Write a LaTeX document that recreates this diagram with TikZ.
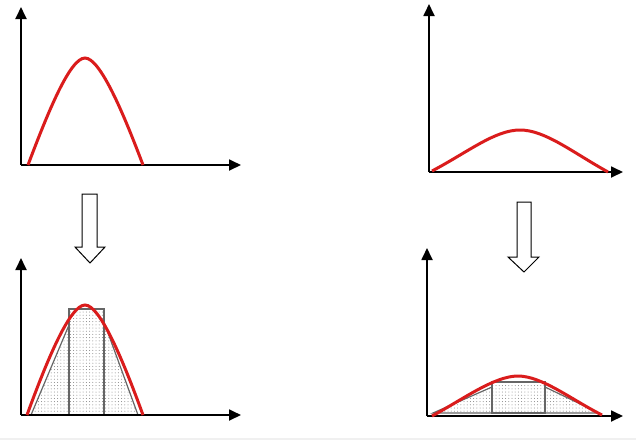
\documentclass[tikz,border=0pt]{standalone}
\usetikzlibrary{arrows.meta,patterns.meta}
\definecolor{cred}{RGB}{218,28,28}
\begin{document}
\begin{tikzpicture}[x=1pt,y=-1pt,
  axis/.style={line width=1.8pt, -{Triangle[length=12pt,width=11pt]}},
  curve/.style={cred, line width=3pt},
  approx/.style={draw=black!60, line width=1.2pt, pattern={Dots[distance=3.2pt,radius=0.5pt]}, pattern color=black!50},
  blockarrow/.style={draw=black, line width=1pt, fill=white, line join=miter}]
\useasboundingbox (0,0) rectangle (636,440);
\fill[black!6] (0,438) rectangle (636,440);

% panel 1 (top left)
\coordinate (o1) at (21,165);
\draw[axis] (o1) -- (21,7);
\draw[axis] (o1) -- (241,165);
\draw[curve] (28,165) .. controls (48,112) and (70,58) .. (85,58) .. controls (100,58) and (123,112) .. (143,165);

% block arrow 1
\draw[blockarrow] (82,194) -- (97,194) -- (97,247) -- (105,247) -- (90,263) -- (75,247) -- (82,247) -- cycle;

% panel 2 (bottom left)
\draw[approx] (31,415) -- (69,325) -- (69,415) -- cycle;
\draw[approx] (69,309) rectangle (104,415);
\draw[approx] (104,322) -- (138,415) -- (104,415) -- cycle;
\coordinate (o2) at (21,415);
\draw[axis] (o2) -- (21,258);
\draw[axis] (o2) -- (241,415);
\draw[curve] (27,415) .. controls (47,360) and (70,305) .. (85,305) .. controls (100,305) and (123,360) .. (143,415);

% panel 3 (top right)
\coordinate (o3) at (429,172);
\draw[axis] (o3) -- (429,4);
\draw[axis] (o3) -- (623,172);
\draw[curve] (432,171) .. controls (468,152) and (495,130) .. (520,130) .. controls (545,130) and (572,152) .. (608,172);

% block arrow 2
\draw[blockarrow] (517,202) -- (531,202) -- (531,257) -- (539,257) -- (524,272) -- (508,257) -- (517,257) -- cycle;

% panel 4 (bottom right)
\draw[approx] (433,413) -- (492,387) -- (492,413) -- cycle;
\draw[approx] (492,382) rectangle (545,413);
\draw[approx] (545,387) -- (599,413) -- (545,413) -- cycle;
\coordinate (o4) at (427,416);
\draw[axis] (o4) -- (427,248);
\draw[axis] (o4) -- (623,416);
\draw[curve] (432,416) .. controls (462,400) and (494,376) .. (518,376) .. controls (542,376) and (572,400) .. (602,415);
\end{tikzpicture}
\end{document}
